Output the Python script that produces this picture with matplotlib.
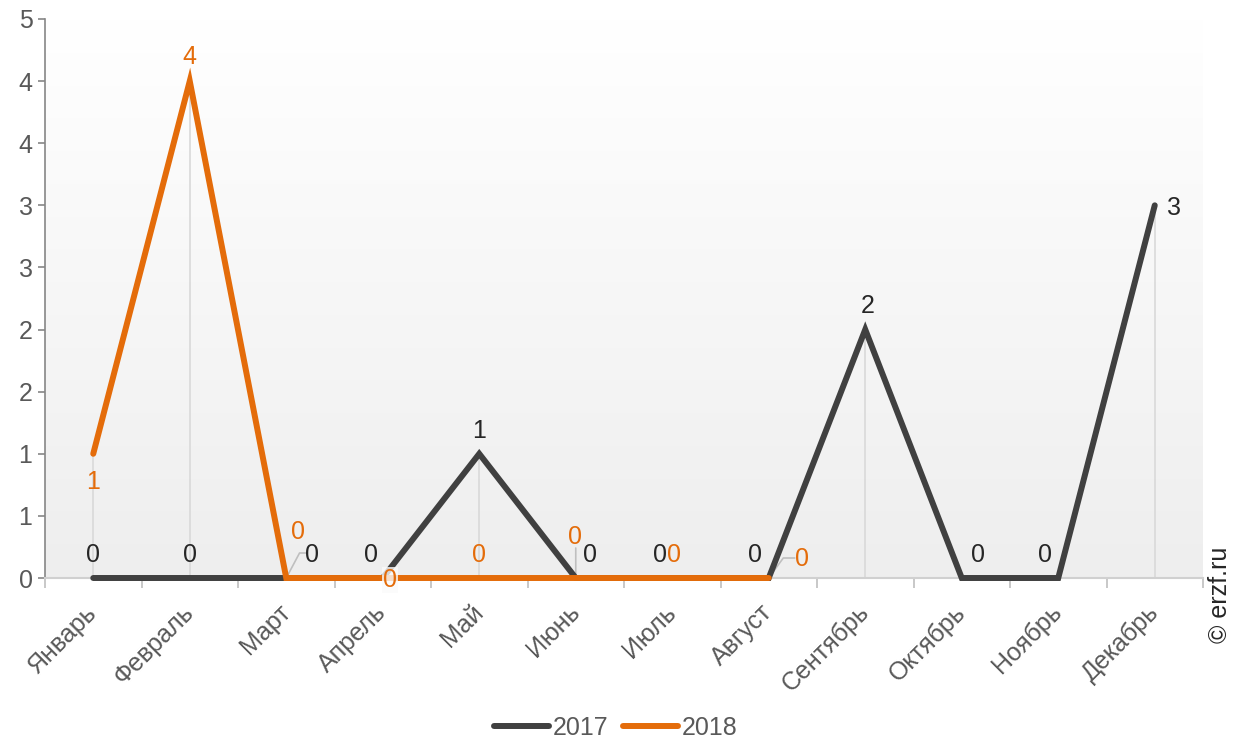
import numpy as np
import matplotlib.pyplot as plt
from matplotlib.colors import LinearSegmentedColormap
from matplotlib.ticker import FixedLocator, FuncFormatter

plt.rcParams['font.family'] = ['Liberation Sans', 'DejaVu Sans']

months = ['Январь', 'Февраль', 'Март', 'Апрель', 'Май', 'Июнь', 'Июль', 'Август',
          'Сентябрь', 'Октябрь', 'Ноябрь', 'Декабрь']
y2017 = [0, 0, 0, 0, 1, 0, 0, 0, 2, 0, 0, 3]
y2018 = [1, 4, 0, 0, 0, 0, 0, 0, np.nan, np.nan, np.nan, np.nan]
series = ['2017', '2018']

c17 = '#404040'
c18 = '#E46C0A'
grey_txt = '#595959'
fs = 18

# label offsets in pixels (dx, dy)
off17 = [(0, 23), (0, 23), (26, 23), (-12, 23), (0, 23), (14, 23), (-12, 23), (-14, 23),
         (2, 24), (16, 23), (-13, 23), (19, -3)]
off18 = [(0, -28), (0, 24), (12, 46), (7, -2), (0, 23), (-1, 41), (2, 23), (33, 19)]

fig = plt.figure(figsize=(12.42, 7.42), dpi=100)
ax = fig.add_axes([45 / 1242, 1 - 578 / 742, (1203 - 45) / 1242, (578 - 19) / 742])
x = np.arange(len(months))
ax.set_xlim(-0.5, 11.5)
ax.set_ylim(0, 4.5)

# background gradient
cmap = LinearSegmentedColormap.from_list('bg', ['#ffffff', '#eeeeee'])
ax.imshow(np.linspace(0, 1, 256).reshape(-1, 1), cmap=cmap, aspect='auto',
          extent=(-0.5, 11.5, 0, 4.5), origin='upper', zorder=0)

# drop lines
top = np.nanmax(np.array([y2017, y2018], dtype=float), axis=0)
ax.vlines(x, 0, top, color='#d9d9d9', lw=1.2, zorder=1)

ax.plot(x, y2017, color=c17, lw=4.3, solid_capstyle='round', solid_joinstyle='miter',
        zorder=3, clip_on=False, label=series[0])
ax.plot(x, y2018, color=c18, lw=4.3, solid_capstyle='round', solid_joinstyle='miter',
        zorder=4, clip_on=False, label=series[1])

# leader lines
lead = dict(arrowstyle='-', color='#bfbfbf', lw=1.2, shrinkA=0, shrinkB=0)
ax.annotate('', xy=(2, y2017[2]), xytext=(21, 25), textcoords='offset pixels',
            arrowprops=dict(lead, connectionstyle='angle,angleA=0,angleB=62,rad=0'), zorder=2)
ax.annotate('', xy=(5, y2018[5]), xytext=(0, 30), textcoords='offset pixels',
            arrowprops=lead, zorder=2)
ax.annotate('', xy=(7, y2018[7]), xytext=(26, 20), textcoords='offset pixels',
            arrowprops=dict(lead, connectionstyle='angle,angleA=0,angleB=54,rad=0'), zorder=2)

for i, v in enumerate(y2017):
    ax.annotate(f'{v:g}', xy=(i, v), xytext=off17[i], textcoords='offset pixels',
                ha='center', va='center', fontsize=fs, color='#262626', zorder=5)
for i, v in enumerate(y2018):
    if np.isnan(v):
        continue
    bb = dict(boxstyle='square,pad=0.05', fc='#fafafa', ec='none', alpha=0.8) if i == 3 else None
    ax.annotate(f'{v:g}', xy=(i, v), xytext=off18[i], textcoords='offset pixels',
                ha='center', va='center', fontsize=fs, color=c18, zorder=5, bbox=bb)

# axes styling
for s in ['top', 'right']:
    ax.spines[s].set_visible(False)
ax.spines['left'].set_color('#868686')
ax.spines['left'].set_linewidth(1.2)
ax.spines['bottom'].set_color('#d0d0d0')
ax.spines['bottom'].set_linewidth(1.5)

ax.set_yticks(np.arange(0, 4.51, 0.5))
ax.yaxis.set_major_formatter(FuncFormatter(lambda v, p: f'{int(np.floor(v + 0.5))}'))
ax.tick_params(axis='y', length=5, width=1.2, color='#868686', labelcolor=grey_txt,
               labelsize=fs, pad=4)

ax.set_xticks(x)
ax.set_xticklabels(months, rotation=45, ha='right', va='center', rotation_mode='anchor')
ax.tick_params(axis='x', which='major', length=0, labelcolor=grey_txt, labelsize=fs, pad=22)
ax.xaxis.set_minor_locator(FixedLocator(np.arange(-0.5, 12, 1)))
ax.tick_params(axis='x', which='minor', length=7, width=1.2, color='#bfbfbf')

fig.legend(loc='center', bbox_to_anchor=(0.496, 0.019), ncol=2, frameon=False,
           fontsize=fs, labelcolor=grey_txt, handlelength=2.2, handletextpad=0.15,
           columnspacing=0.6)

fig.text(1220 / 1242, 1 - 595 / 742, '© erzf.ru', rotation=90, ha='center', va='center',
         fontsize=fs, color='#262626')

fig.savefig('out.png', dpi=100)
